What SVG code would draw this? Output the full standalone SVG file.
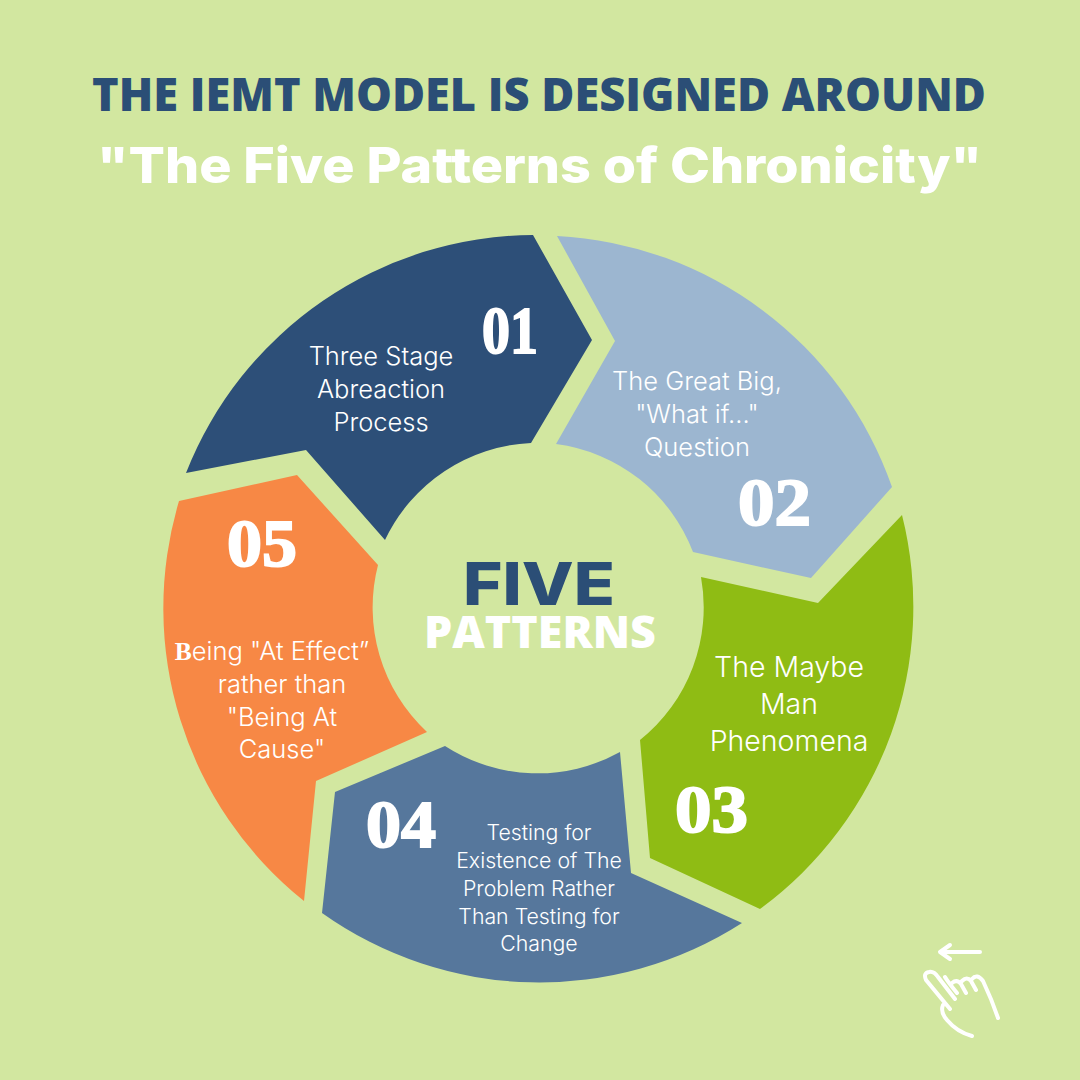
<svg xmlns="http://www.w3.org/2000/svg" width="1080" height="1080" viewBox="0 0 1080 1080">
<style>
.t{font-family:"Inter","Lato",sans-serif;font-weight:300;fill:#fff;text-anchor:middle}
.n{font-family:"Liberation Serif",serif;font-weight:700;fill:#fff;stroke:#fff;stroke-width:2}
.h{font-family:"Open Sans",sans-serif;font-weight:800}
.i{font-family:"Inter",sans-serif;font-weight:800}
.ic{fill:none;stroke:#fff;stroke-width:4;stroke-linecap:round;stroke-linejoin:round}
</style>
<rect width="1080" height="1080" fill="#d2e7a0"/>
<g id="title">
<text class="h" x="92" y="110.500" font-size="46" fill="#2b4e76" textLength="894" lengthAdjust="spacingAndGlyphs">THE IEMT MODEL IS DESIGNED AROUND</text>
<text class="i" x="97" y="183" font-size="50" fill="#fff" textLength="885" lengthAdjust="spacingAndGlyphs">"The Five Patterns of Chronicity"</text>
</g>
<g id="node-01">
<path fill="#2d4f78" d="M186 473A375 375 0 0 1 533 235L592 340L531 443A170 170 0 0 0 385 540L306 450Z"/>
<text class="n" x="482" y="353" font-size="68" textLength="56" lengthAdjust="spacingAndGlyphs">01</text>
<text class="t" font-size="25.500"><tspan x="381" y="365">Three Stage</tspan><tspan x="381" y="398">Abreaction</tspan><tspan x="381" y="431">Process</tspan></text>
</g>
<g id="node-02">
<path fill="#9cb6d0" d="M557 236A375 375 0 0 1 892 487L811 578L693 552A170 170 0 0 0 556 444L615 341Z"/>
<text class="n" x="738" y="525" font-size="68" textLength="73" lengthAdjust="spacingAndGlyphs">02</text>
<text class="t" font-size="25.500"><tspan x="697" y="390">The Great Big,</tspan><tspan x="697" y="423">"What if..."</tspan><tspan x="697" y="456">Question</tspan></text>
</g>
<g id="node-03">
<path fill="#8fbc14" d="M902 515A375 375 0 0 1 760 909L650 858L640 740A170 170 0 0 0 701 577L818 603Z"/>
<text class="n" x="675" y="832" font-size="68" textLength="73" lengthAdjust="spacingAndGlyphs">03</text>
<text class="t" font-size="28.500"><tspan x="789" y="677">The Maybe</tspan><tspan x="789" y="714">Man</tspan><tspan x="789" y="751">Phenomena</tspan></text>
</g>
<g id="node-04">
<path fill="#56779c" d="M445 746A170 170 0 0 0 620 752L631 873L742 923A375 375 0 0 1 322 913L335 792Z"/>
<text class="n" x="366" y="847" font-size="68" textLength="70" lengthAdjust="spacingAndGlyphs">04</text>
<text class="t" font-size="21.300"><tspan x="539" y="840">Testing for</tspan><tspan x="539" y="868">Existence of The</tspan><tspan x="539" y="896">Problem Rather</tspan><tspan x="539" y="924">Than Testing for</tspan><tspan x="539" y="951">Change</tspan></text>
</g>
<g id="node-05">
<path fill="#f78845" d="M179 501L297 475L378 565A170 170 0 0 0 427 732L316 781L304 901A375 375 0 0 1 179 501Z"/>
<text class="n" x="227" y="566" font-size="68" textLength="70" lengthAdjust="spacingAndGlyphs">05</text>
<text class="t" font-size="25.500"><tspan x="272" y="660"><tspan font-family="Liberation Serif" font-weight="700">B</tspan>eing "At Effect”</tspan><tspan x="282" y="693">rather than</tspan><tspan x="282" y="726">"Being At</tspan><tspan x="282" y="758">Cause"</tspan></text>
</g>
<g id="center">
<text class="i" x="463" y="605" font-size="59" font-weight="900" fill="#2b4e76" textLength="152" lengthAdjust="spacingAndGlyphs">FIVE</text>
<text class="h" x="424" y="648" font-size="44" fill="#fff" textLength="232" lengthAdjust="spacingAndGlyphs">PATTERNS</text>
</g>
<g id="connectors"></g>
<g id="swipe-icon" class="ic">
<path d="M980 952H940M950 945L940 952L950 959"/>
<path d="M950 1009L926 980Q923 973 929 972Q934 971 938 977L955 999M945 977Q948 982 957 993M952 983Q957 979 961 984L966 993M962 981Q967 976 971 981L976 990M972 979Q977 973 983 981Q992 1000 998 1018"/>
<path d="M943 1005Q940 1012 947 1020Q957 1032 972 1036"/>
</g>
</svg>
